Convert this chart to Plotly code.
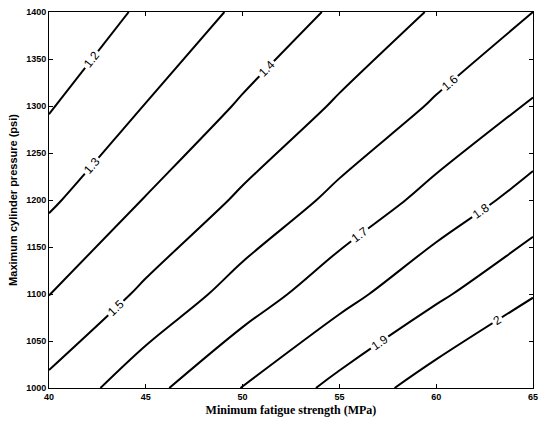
import plotly.graph_objects as go

# Minimum fatigue strength (MPa)
strength = [40, 45, 50, 55, 60, 65]
# Maximum cylinder pressure (psi)
pressure = [1000, 1100, 1200, 1300, 1400]
# Safety factor, one row per pressure
sf_1000 = [1.524, 1.667, 1.803, 1.931, 2.052, 2.170]
sf_1100 = [1.398, 1.519, 1.644, 1.764, 1.881, 1.993]
sf_1200 = [1.284, 1.405, 1.516, 1.626, 1.734, 1.840]
sf_1300 = [1.192, 1.303, 1.412, 1.513, 1.612, 1.710]
sf_1400 = [1.116, 1.218, 1.319, 1.418, 1.511, 1.600]

x_ticks = [40, 45, 50, 55, 60, 65]
y_ticks = [1000, 1050, 1100, 1150, 1200, 1250, 1300, 1350, 1400]

z = [sf_1000, sf_1100, sf_1200, sf_1300, sf_1400]

fig = go.Figure(go.Contour(
    x=strength, y=pressure, z=z,
    contours=dict(start=1.2, end=2.0, size=0.1, coloring="none",
                  showlabels=True,
                  labelfont=dict(size=12, color="black", family="Liberation Sans")),
    line=dict(color="black", width=2),
    showscale=False,
))

axis_common = dict(showline=True, linecolor="black", linewidth=1, mirror="ticks",
                   ticks="inside", ticklen=4, tickcolor="black", showgrid=False,
                   zeroline=False, ticklabeloverflow="allow", automargin=False,
                   tickfont=dict(size=9, family="Liberation Sans", color="black", weight="bold"))

fig.update_layout(
    width=540, height=422,
    margin=dict(l=49, r=7, t=12, b=34, autoexpand=False),
    paper_bgcolor="white", plot_bgcolor="white",
    xaxis=dict(range=[40, 65.001], tickvals=x_ticks,
               title=dict(text="<b>Minimum fatigue strength (MPa)</b>", standoff=4,
                          font=dict(size=12, family="Liberation Serif", color="black")),
               **axis_common),
    yaxis=dict(range=[1000, 1400], tickvals=y_ticks,
               title=dict(text="<b>Maximum cylinder pressure (psi)</b>", standoff=6,
                          font=dict(size=11, family="Liberation Sans", color="black")),
               **axis_common),
    showlegend=False,
)

fig.write_html("out.html")
